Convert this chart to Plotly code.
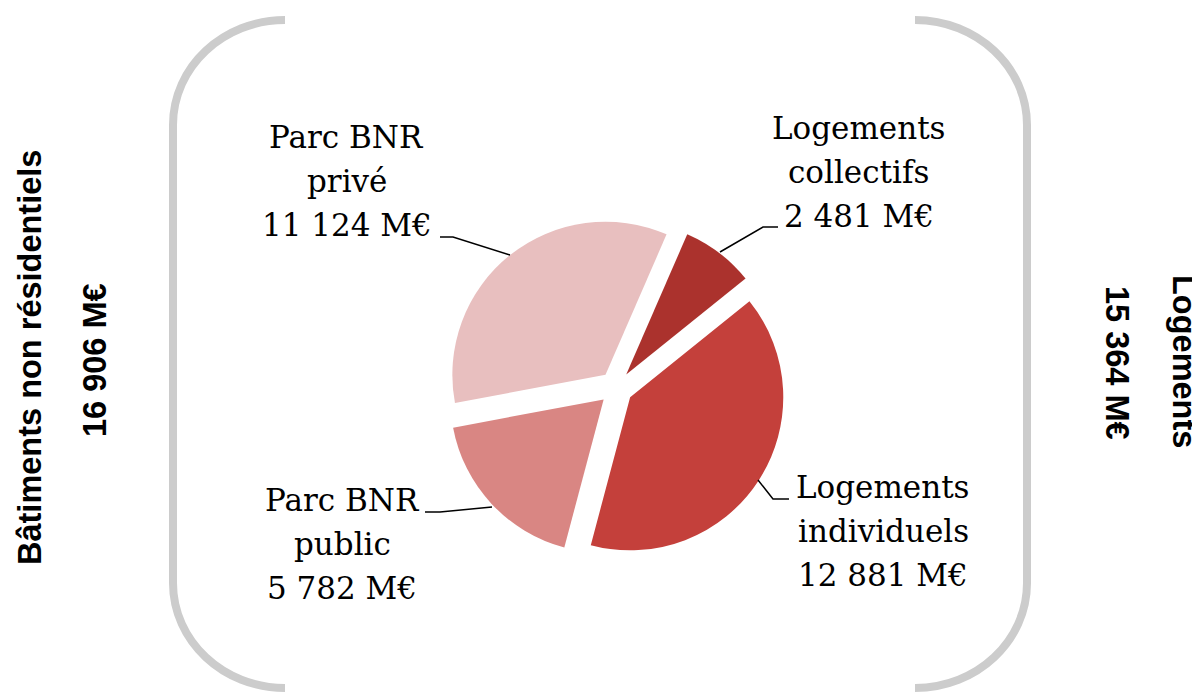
import plotly.graph_objects as go

W, H = 1200, 693
OFF = 8  # default page body margin in the browser

# ---- data ----
categories = ["Logements collectifs", "Logements individuels", "Parc BNR public", "Parc BNR privé"]
values = [2481, 12881, 5782, 11124]
label_lines = [["Logements", "collectifs"], ["Logements", "individuels"],
               ["Parc BNR", "public"], ["Parc BNR", "privé"]]
colors = ["#AB322D", "#C4403B", "#D98683", "#E8BFBF"]
group_names = ["Bâtiments non résidentiels", "Logements"]
group_totals = [16906, 15364]


def fmt(v):
    return f"{v:,}".replace(",", " ") + " M€"


def px(x):
    return (x - OFF) / W


def py(y):
    return 1 - (y - OFF) / H


# pie geometry (screen pixels)
cx, cy, half = 616, 388, 170

fig = go.Figure(go.Pie(
    labels=categories, values=values, sort=False, direction="clockwise",
    rotation=23.5, pull=[0.11] * 4, textinfo="none", hoverinfo="label+value",
    marker=dict(colors=colors, line=dict(width=0)),
    domain=dict(x=[px(cx - half), px(cx + half)], y=[py(cy + half), py(cy - half)]),
    showlegend=False,
))

annotations = []
fs = 31
serif = dict(family="DejaVu Serif", size=fs, color="black")
# label anchors: (center x, first baseline y)
label_pos = [(859, 138), (883, 497), (342, 510), (347, 147)]
for lines, v, (lx, ly) in zip(label_lines, values, label_pos):
    for i, t in enumerate(lines + [fmt(v)]):
        annotations.append(dict(x=px(lx), y=py(ly + 44 * i - 0.33 * fs), xref="paper", yref="paper",
                                text=t, showarrow=False, xanchor="center", yanchor="middle",
                                font=serif))

side = [
    dict(x=px(30), y=py(358), text="<b>" + group_names[0] + "</b>", textangle=-90),
    dict(x=px(95), y=py(360), text="<b>" + fmt(group_totals[0]) + "</b>", textangle=-90),
    dict(x=px(1184), y=py(361), text="<b>" + group_names[1] + "</b>", textangle=90),
    dict(x=px(1117), y=py(363), text="<b>" + fmt(group_totals[1]) + "</b>", textangle=90),
]
for a in side:
    a.update(xref="paper", yref="paper", showarrow=False, xanchor="center", yanchor="middle",
             font=dict(family="Liberation Sans", size=32.5, color="black"))
annotations += side


def path(pts):
    s = ""
    for i, (x, y) in enumerate(pts):
        s += ("M" if i == 0 else "L") + f"{px(x):.5f},{py(y):.5f} "
    return s.strip()


shapes = []
leaders = [[(720, 252), (763, 227), (778, 227)],
           [(758, 480), (773, 499), (789, 499)],
           [(425, 512), (440, 512), (492, 507)],
           [(440, 237), (453, 237), (510, 255)]]
for pts in leaders:
    shapes.append(dict(type="path", xref="paper", yref="paper", path=path(pts),
                       line=dict(color="black", width=1.5)))

# brackets (rounded corners via cubic beziers)
k = 0.5523


def bracket(xe, xv, ytop, ybot, ry):
    d = xv - xe
    s = f"M{px(xe):.5f},{py(ytop):.5f} "
    s += (f"C{px(xe + d * k):.5f},{py(ytop):.5f} {px(xv):.5f},{py(ytop + ry * (1 - k)):.5f} "
          f"{px(xv):.5f},{py(ytop + ry):.5f} ")
    s += f"L{px(xv):.5f},{py(ybot - ry):.5f} "
    s += (f"C{px(xv):.5f},{py(ybot - ry * (1 - k)):.5f} {px(xe + d * k):.5f},{py(ybot):.5f} "
          f"{px(xe):.5f},{py(ybot):.5f}")
    return s


for xe, xv in [(285, 173), (915, 1027)]:
    shapes.append(dict(type="path", xref="paper", yref="paper",
                       path=bracket(xe, xv, 20, 688, 105),
                       line=dict(color="#CCCCCC", width=8)))

fig.update_layout(
    width=W, height=H, margin=dict(l=0, r=0, t=0, b=0),
    paper_bgcolor="white", plot_bgcolor="white",
    annotations=annotations, shapes=shapes,
)
fig.write_html("out.html")
